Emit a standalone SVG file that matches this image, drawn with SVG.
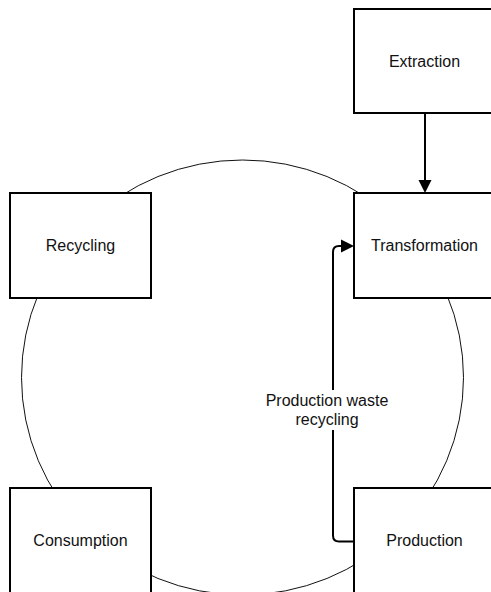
<svg xmlns="http://www.w3.org/2000/svg" width="491" height="592" viewBox="0 0 491 592">
<style>
.box{fill:#fff;stroke:#000;stroke-width:2}
.lbl{font-family:"Liberation Sans",Arial,sans-serif;font-size:16px;fill:#111;text-anchor:middle}
.edge{fill:none;stroke:#000;stroke-width:2}
</style>
<defs>
<marker id="arr" viewBox="0 0 10 10" refX="10" refY="5" markerWidth="7" markerHeight="7" markerUnits="userSpaceOnUse" orient="auto">
<path d="M0,0 L10,5 L0,10 Z" fill="#000"/>
</marker>
</defs>
<rect width="491" height="592" fill="#fff"/>
<ellipse id="cycle" cx="242.5" cy="377.5" rx="221" ry="217.5" fill="none" stroke="#111" stroke-width="1"/>
<g id="connectors">
<path class="edge" d="M425,113 V181" />
<path d="M418.5,180 L431.5,180 L425,193 Z" fill="#000"/>
<path class="edge" d="M354,541.5 H339 Q333,541.5 333,535.5 V430 M333,390 V252 Q333,246 339,246 H342"/>
<path d="M341,239.5 L354,246 L341,252.5 Z" fill="#000"/>
<text class="lbl" x="327" y="406">Production waste</text>
<text class="lbl" x="327" y="425">recycling</text>
</g>
<g id="extraction"><rect class="box" x="354" y="9" width="141" height="104"/><text class="lbl" x="424.5" y="66.5">Extraction</text></g>
<g id="transformation"><rect class="box" x="354" y="193" width="141" height="105"/><text class="lbl" x="424.5" y="251">Transformation</text></g>
<g id="recycling"><rect class="box" x="10" y="193" width="141" height="105"/><text class="lbl" x="80.5" y="251">Recycling</text></g>
<g id="consumption"><rect class="box" x="10" y="488" width="141" height="106"/><text class="lbl" x="80.5" y="546">Consumption</text></g>
<g id="production"><rect class="box" x="354" y="488" width="141" height="106"/><text class="lbl" x="424.5" y="546">Production</text></g>
</svg>
